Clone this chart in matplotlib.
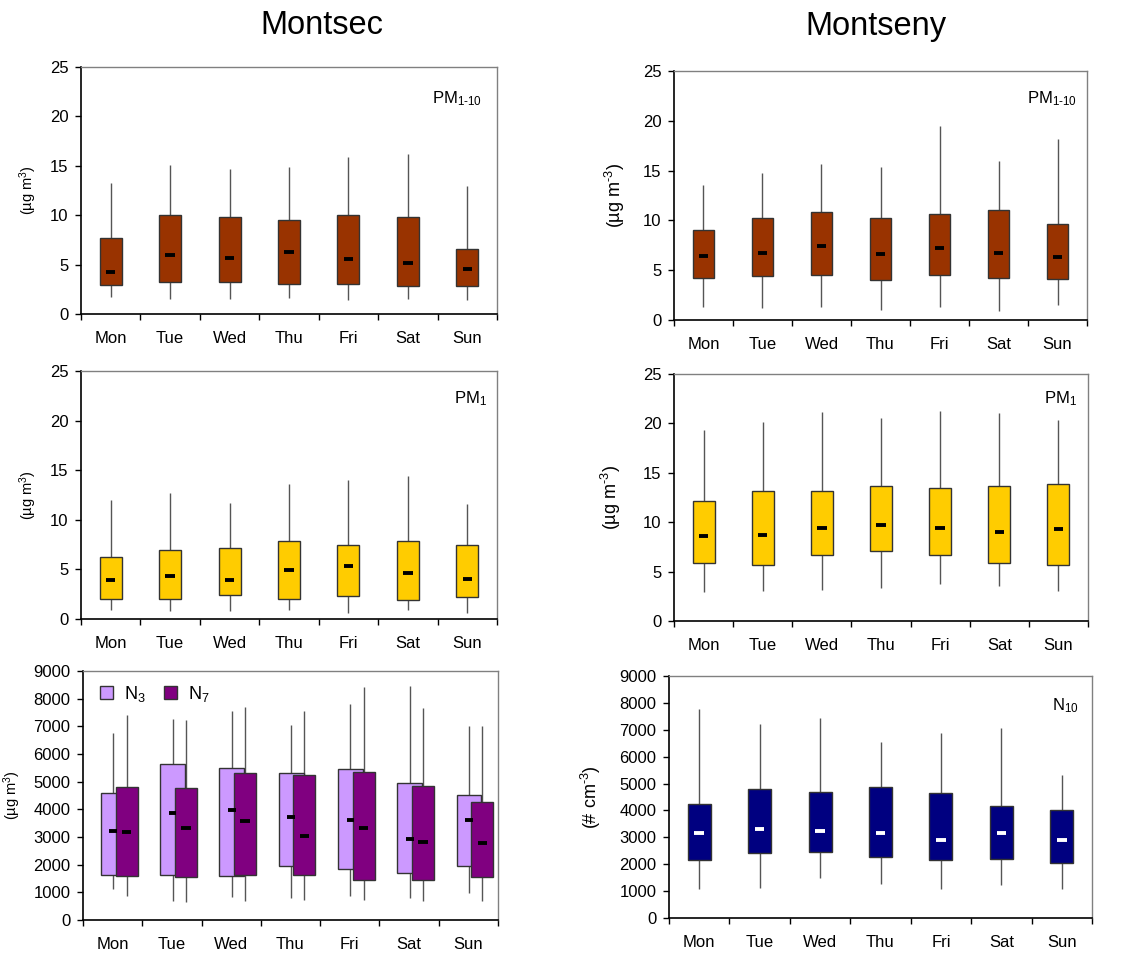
import matplotlib.pyplot as plt
from matplotlib.patches import Patch

plt.rcParams['font.family'] = ['Liberation Sans', 'DejaVu Sans']
plt.rcParams['mathtext.fontset'] = 'custom'
plt.rcParams['mathtext.rm'] = 'Liberation Sans'
plt.rcParams['mathtext.it'] = 'Liberation Sans'
plt.rcParams['mathtext.default'] = 'regular'

days = ['Mon', 'Tue', 'Wed', 'Thu', 'Fri', 'Sat', 'Sun']

# Montsec PM1-10: low whisker, q1, median, q3, high whisker
msc_pm110_low = [1.76, 1.49, 1.49, 1.62, 1.39, 1.49, 1.39]
msc_pm110_q1 = [2.94, 3.21, 3.21, 3.07, 3.07, 2.80, 2.80]
msc_pm110_med = [4.29, 5.98, 5.68, 6.25, 5.54, 5.14, 4.56]
msc_pm110_q3 = [7.70, 10.0, 9.83, 9.56, 10.0, 9.83, 6.59]
msc_pm110_high = [13.24, 15.07, 14.66, 14.90, 15.90, 16.18, 12.97]

# Montseny PM1-10
mny_pm110_low = [1.34, 1.20, 1.34, 1.04, 1.34, 0.90, 1.47]
mny_pm110_q1 = [4.24, 4.38, 4.55, 3.98, 4.55, 4.24, 4.11]
mny_pm110_med = [6.42, 6.72, 7.39, 6.58, 7.25, 6.72, 6.28]
mny_pm110_q3 = [8.99, 10.26, 10.80, 10.26, 10.66, 11.06, 9.59]
mny_pm110_high = [13.60, 14.74, 15.70, 15.40, 19.45, 15.98, 18.18]

# Montsec PM1
msc_pm1_low = [0.91, 0.77, 0.77, 0.91, 0.64, 0.91, 0.64]
msc_pm1_q1 = [2.05, 2.05, 2.46, 2.05, 2.32, 1.92, 2.19]
msc_pm1_med = [3.94, 4.37, 3.94, 4.91, 5.35, 4.64, 4.07]
msc_pm1_q3 = [6.22, 6.93, 7.20, 7.91, 7.50, 7.91, 7.50]
msc_pm1_high = [12.01, 12.72, 11.74, 13.56, 14.00, 14.40, 11.60]

# Montseny PM1
mny_pm1_low = [2.90, 3.03, 3.17, 3.30, 3.71, 3.57, 3.03]
mny_pm1_q1 = [5.86, 5.69, 6.67, 7.11, 6.67, 5.86, 5.69]
mny_pm1_med = [8.56, 8.73, 9.43, 9.70, 9.43, 9.00, 9.30]
mny_pm1_q3 = [12.13, 13.14, 13.14, 13.71, 13.44, 13.71, 13.85]
mny_pm1_high = [19.34, 20.18, 21.16, 20.59, 21.29, 21.02, 20.32]

# Montsec N3 and N7
n3_low = [1133, 687, 831, 783, 880, 783, 988]
n3_q1 = [1639, 1639, 1590, 1940, 1831, 1687, 1940]
n3_med = [3217, 3867, 3976, 3723, 3614, 2916, 3614]
n3_q3 = [4590, 5639, 5482, 5325, 5446, 4940, 4530]
n3_high = [6771, 7253, 7554, 7048, 7807, 8458, 7000]

n7_low = [880, 639, 687, 711, 735, 687, 687]
n7_q1 = [1590, 1542, 1639, 1639, 1446, 1446, 1542]
n7_med = [3169, 3325, 3566, 3024, 3325, 2819, 2771]
n7_q3 = [4807, 4759, 5301, 5253, 5337, 4843, 4253]
n7_high = [7410, 7217, 7711, 7554, 8422, 7651, 7000]

# Montseny N10
n10_low = [1066, 1116, 1488, 1277, 1066, 1227, 1066]
n10_q1 = [2157, 2430, 2467, 2268, 2157, 2207, 2058]
n10_med = [3173, 3322, 3223, 3173, 2913, 3173, 2913]
n10_q3 = [4227, 4810, 4698, 4859, 4649, 4178, 4016]
n10_high = [7785, 7227, 7438, 6558, 6868, 7054, 5318]

W, H = 1128, 960
fig = plt.figure(figsize=(W / 100, H / 100), dpi=100)


def make_ax(l, t, r, b):
    return fig.add_axes([l / W, 1 - b / H, (r - l) / W, (b - t) / H])


def draw_boxes(ax, offset, width, low, q1, med, q3, high, color, medcolor='black', dash=0.16):
    x = [i + offset for i in range(len(low))]
    ax.vlines(x, low, high, color='#555555', lw=1.0, zorder=1)
    ax.bar(x, [b - a for a, b in zip(q1, q3)], width=width, bottom=q1,
           color=color, edgecolor='#333333', lw=1.0, zorder=2)
    ax.hlines(med, [v - dash / 2 for v in x], [v + dash / 2 for v in x],
              color=medcolor, lw=2.8, zorder=3)


def style_ax(ax, ymax, ystep):
    ax.set_xlim(-0.5, 6.5)
    ax.set_ylim(0, ymax)
    ax.set_yticks(range(0, ymax + 1, ystep))
    ax.set_xticks([i - 0.5 for i in range(8)])
    ax.set_xticklabels([])
    ax.set_xticks(range(7), minor=True)
    ax.set_xticklabels(days, minor=True)
    ax.tick_params(axis='x', which='major', direction='out', length=4, width=1)
    ax.tick_params(axis='x', which='minor', length=0, pad=12, labelsize=12)
    ax.tick_params(axis='y', direction='out', length=4, width=1, pad=5, labelsize=12)
    for s in ['top', 'right']:
        ax.spines[s].set_color('#808080')
        ax.spines[s].set_linewidth(1.0)
    for s in ['left', 'bottom']:
        ax.spines[s].set_color('black')
        ax.spines[s].set_linewidth(1.2)


def corner_label(ax, x, y, main, sub):
    t = ax.text(x, y, main + '$_{' + sub + '}$', transform=ax.transAxes,
                ha='right', va='center', fontsize=12)
    return t


brown = '#993300'
yellow = '#FFCC00'
lav = '#CC99FF'
purple = '#800080'
navy = '#000080'

# Montsec PM1-10
ax1 = make_ax(81, 67, 497, 314)
draw_boxes(ax1, 0, 0.37, msc_pm110_low, msc_pm110_q1, msc_pm110_med, msc_pm110_q3, msc_pm110_high, brown)
style_ax(ax1, 25, 5)
ax1.set_ylabel('(µg m$^{3}$)', fontsize=10.5)
ax1.yaxis.set_label_coords(-0.101, 0.5)
corner_label(ax1, 0.965, 0.87, 'PM', r'1\text{-}10')

# Montseny PM1-10
ax2 = make_ax(674, 71, 1087, 320)
draw_boxes(ax2, 0, 0.37, mny_pm110_low, mny_pm110_q1, mny_pm110_med, mny_pm110_q3, mny_pm110_high, brown)
style_ax(ax2, 25, 5)
ax2.set_ylabel(r'(µg m$^{\text{-}3}$)', fontsize=13)
ax2.yaxis.set_label_coords(-0.114, 0.5)
corner_label(ax2, 0.976, 0.89, 'PM', r'1\text{-}10')

# Montsec PM1
ax3 = make_ax(81, 371, 497, 619)
draw_boxes(ax3, 0, 0.37, msc_pm1_low, msc_pm1_q1, msc_pm1_med, msc_pm1_q3, msc_pm1_high, yellow)
style_ax(ax3, 25, 5)
ax3.set_ylabel('(µg m$^{3}$)', fontsize=10.5)
ax3.yaxis.set_label_coords(-0.101, 0.5)
corner_label(ax3, 0.976, 0.89, 'PM', '1')

# Montseny PM1
ax4 = make_ax(674, 374, 1088, 621)
draw_boxes(ax4, 0, 0.37, mny_pm1_low, mny_pm1_q1, mny_pm1_med, mny_pm1_q3, mny_pm1_high, yellow)
style_ax(ax4, 25, 5)
ax4.set_ylabel(r'(µg m$^{\text{-}3}$)', fontsize=13)
ax4.yaxis.set_label_coords(-0.123, 0.5)
corner_label(ax4, 0.973, 0.90, 'PM', '1')

# Montsec N3 / N7
ax5 = make_ax(83, 671, 498, 920)
draw_boxes(ax5, 0.01, 0.42, n3_low, n3_q1, n3_med, n3_q3, n3_high, lav, dash=0.13)
draw_boxes(ax5, 0.235, 0.37, n7_low, n7_q1, n7_med, n7_q3, n7_high, purple, dash=0.16)
style_ax(ax5, 9000, 1000)
ax5.set_ylabel('(µg m$^{3}$)', fontsize=10.5)
ax5.yaxis.set_label_coords(-0.145, 0.5)
handles = [Patch(facecolor=lav, edgecolor='#333333', lw=1.0),
           Patch(facecolor=purple, edgecolor='#333333', lw=1.0)]
ax5.legend(handles, ['N$_3$', 'N$_7$'], loc='upper left', ncol=2, frameon=False,
           fontsize=13, handlelength=0.75, handleheight=0.75, handletextpad=0.6,
           columnspacing=1.0, borderaxespad=0.3, bbox_to_anchor=(0.01, 1.0))

# Montseny N10
ax6 = make_ax(669, 676, 1092, 918)
draw_boxes(ax6, 0, 0.38, n10_low, n10_q1, n10_med, n10_q3, n10_high, navy, medcolor='white')
style_ax(ax6, 9000, 1000)
ax6.set_ylabel(r'(# cm$^{\text{-}3}$)', fontsize=13)
ax6.yaxis.set_label_coords(-0.156, 0.5)
corner_label(ax6, 0.969, 0.876, 'N', '10')

fig.text(322 / W, 1 - 26 / H, 'Montsec', ha='center', va='center', fontsize=23.5)
fig.text(876 / W, 1 - 26 / H, 'Montseny', ha='center', va='center', fontsize=23.5)

fig.savefig('out.png', dpi=100)
